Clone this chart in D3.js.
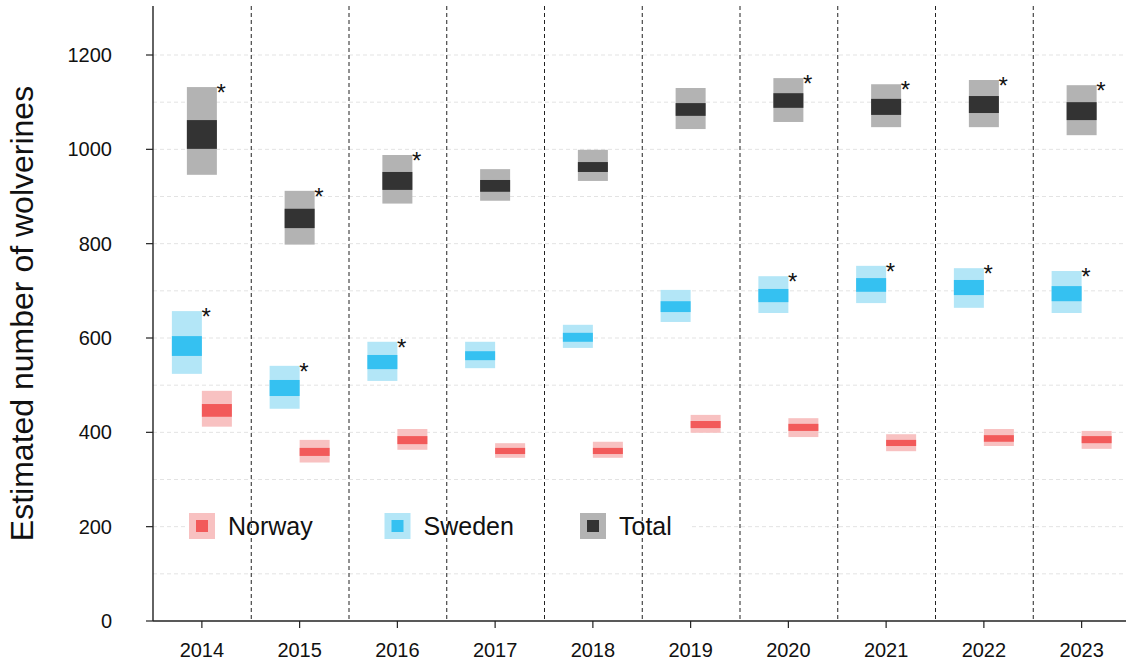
<!DOCTYPE html>
<html>
<head>
<meta charset="utf-8">
<script src="https://cdn.jsdelivr.net/npm/d3@7"></script>
<style>
  html, body { margin: 0; padding: 0; background: #fff; }
  svg { display: block; font-family: "Liberation Sans", Arial, sans-serif; }
</style>
</head>
<body>
<svg id="chart" width="1126" height="664"></svg>
<script>
// Survey years
const years = ["2014", "2015", "2016", "2017", "2018", "2019", "2020", "2021", "2022", "2023"];

// Estimated population: outer interval (lo95, hi95) and inner interval (lo50, hi50)
const totalLo95 = [946, 798, 885, 891, 933, 1043, 1058, 1047, 1047, 1030];
const totalLo50 = [1001, 833, 914, 910, 952, 1071, 1088, 1073, 1077, 1062];
const totalHi50 = [1062, 874, 952, 935, 973, 1098, 1119, 1107, 1113, 1100];
const totalHi95 = [1132, 912, 988, 958, 999, 1130, 1151, 1138, 1147, 1136];

const swedenLo95 = [524, 450, 509, 536, 579, 634, 653, 674, 664, 653];
const swedenLo50 = [562, 477, 534, 553, 592, 655, 676, 698, 691, 678];
const swedenHi50 = [604, 511, 564, 572, 611, 678, 704, 727, 723, 710];
const swedenHi95 = [657, 541, 592, 592, 628, 702, 731, 753, 748, 742];

const norwayLo95 = [412, 336, 363, 346, 346, 399, 390, 360, 371, 365];
const norwayLo50 = [433, 350, 375, 354, 354, 409, 403, 371, 380, 377];
const norwayHi50 = [460, 367, 392, 367, 367, 424, 418, 384, 394, 392];
const norwayHi95 = [488, 384, 407, 377, 380, 437, 430, 396, 407, 403];

// Years marked with an asterisk
const totalStar  = [true, true, true, false, false, false, true, true, true, true];
const swedenStar = [true, true, true, false, false, false, true, true, true, true];

const yTicks = [0, 200, 400, 600, 800, 1000, 1200];
const yGrid = d3.range(100, 1300, 100);
const legendLabels = ["Norway", "Sweden", "Total"];

const svg = d3.select("#chart");
const W = 1126;
const plotLeft = 153, plotBottom = 621, plotTop = 6;

const x = d3.scaleBand().domain(years).range([plotLeft, plotLeft + 97.75 * years.length]).padding(0);
const y = d3.scaleLinear().domain([0, 1200]).range([plotBottom, 55]);

const colors = {
  Norway: { outer: "#f8c1c1", inner: "#f25a5a" },
  Sweden: { outer: "#b3e6f7", inner: "#35c1f1" },
  Total:  { outer: "#b3b3b3", inner: "#333333" }
};

// Horizontal grid
svg.append("g").selectAll("line").data(yGrid).join("line")
  .attr("x1", plotLeft).attr("x2", W)
  .attr("y1", d => y(d)).attr("y2", d => y(d))
  .attr("stroke", "#e3e3e3").attr("stroke-width", 1)
  .attr("stroke-dasharray", "4,3");

// Legend background
svg.append("rect")
  .attr("x", 185).attr("y", 502).attr("width", 505).attr("height", 50)
  .attr("fill", "#fff");

// Year separators
svg.append("g").selectAll("line").data(years.slice(1)).join("line")
  .attr("x1", d => x(d) + 0.5).attr("x2", d => x(d) + 0.5)
  .attr("y1", plotTop).attr("y2", plotBottom)
  .attr("stroke", "#222").attr("stroke-width", 1)
  .attr("stroke-dasharray", "4,3");

const boxW = 30;
const series = [
  { name: "Sweden", offset: -15, lo95: swedenLo95, lo50: swedenLo50, hi50: swedenHi50, hi95: swedenHi95, star: swedenStar },
  { name: "Norway", offset: 15, lo95: norwayLo95, lo50: norwayLo50, hi50: norwayHi50, hi95: norwayHi95, star: null },
  { name: "Total", offset: 0, lo95: totalLo95, lo50: totalLo50, hi50: totalHi50, hi95: totalHi95, star: totalStar }
];

const marks = svg.append("g");
series.forEach(s => {
  const cx = i => x(years[i]) + x.bandwidth() / 2 + s.offset;
  const g = marks.append("g");
  years.forEach((yr, i) => {
    g.append("rect")
      .attr("x", cx(i) - boxW / 2).attr("width", boxW)
      .attr("y", y(s.hi95[i])).attr("height", y(s.lo95[i]) - y(s.hi95[i]))
      .attr("fill", colors[s.name].outer);
    g.append("rect")
      .attr("x", cx(i) - boxW / 2).attr("width", boxW)
      .attr("y", y(s.hi50[i])).attr("height", y(s.lo50[i]) - y(s.hi50[i]))
      .attr("fill", colors[s.name].inner);
    if (s.star && s.star[i]) {
      g.append("text")
        .attr("x", cx(i) + boxW / 2 - 0.5)
        .attr("y", y(s.hi95[i]) + 14)
        .attr("font-size", 24).attr("fill", "#111")
        .text("*");
    }
  });
});

// Axes
const axisColor = "#222";
svg.append("line").attr("x1", plotLeft).attr("x2", plotLeft).attr("y1", plotTop).attr("y2", plotBottom)
  .attr("stroke", axisColor).attr("stroke-width", 1.4);
svg.append("line").attr("x1", plotLeft).attr("x2", W).attr("y1", plotBottom).attr("y2", plotBottom)
  .attr("stroke", axisColor).attr("stroke-width", 1.4);

svg.append("g").selectAll("line").data(yTicks).join("line")
  .attr("x1", plotLeft - 7).attr("x2", plotLeft)
  .attr("y1", d => y(d)).attr("y2", d => y(d))
  .attr("stroke", axisColor).attr("stroke-width", 1.2);
svg.append("g").selectAll("text").data(yTicks).join("text")
  .attr("x", 112).attr("y", d => y(d) + 7)
  .attr("text-anchor", "end").attr("font-size", 20).attr("fill", "#111")
  .text(d => d);

svg.append("g").selectAll("line").data(years).join("line")
  .attr("x1", d => x(d) + x.bandwidth() / 2).attr("x2", d => x(d) + x.bandwidth() / 2)
  .attr("y1", plotBottom).attr("y2", plotBottom + 7)
  .attr("stroke", axisColor).attr("stroke-width", 1.2);
svg.append("g").selectAll("text").data(years).join("text")
  .attr("x", d => x(d) + x.bandwidth() / 2).attr("y", 657)
  .attr("text-anchor", "middle").attr("font-size", 20).attr("fill", "#111")
  .text(d => d);

// Y axis title
svg.append("text")
  .attr("transform", `translate(33, ${(plotTop + plotBottom) / 2}) rotate(-90)`)
  .attr("text-anchor", "middle").attr("font-size", 32).attr("fill", "#111")
  .text("Estimated number of wolverines");

// Legend
const leg = svg.append("g").selectAll("g").data(legendLabels).join("g")
  .attr("transform", (d, i) => `translate(${189 + i * 195.5}, 526)`);
leg.append("rect").attr("x", 0).attr("y", -13).attr("width", 26).attr("height", 26)
  .attr("fill", d => colors[d].outer);
leg.append("rect").attr("x", 7).attr("y", -6).attr("width", 12).attr("height", 12)
  .attr("fill", d => colors[d].inner);
leg.append("text").attr("x", 39).attr("y", 8.5)
  .attr("font-size", 25).attr("fill", "#111")
  .text(d => d);
</script>
</body>
</html>
